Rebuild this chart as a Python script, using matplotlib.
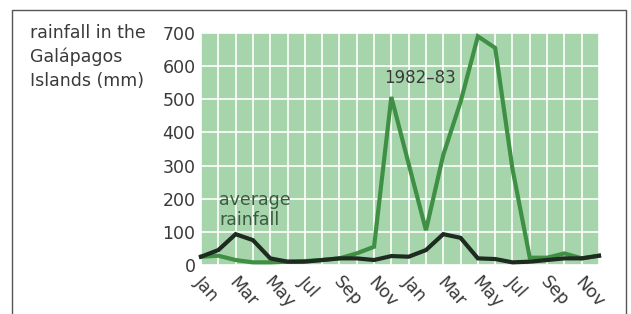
import matplotlib
matplotlib.use("Agg")
import matplotlib.pyplot as plt
import matplotlib.patches as patches
import matplotlib.transforms as mtransforms

# monthly rainfall, Jan 1982 .. Dec 1983 (mm)
months = ["Jan", "Feb", "Mar", "Apr", "May", "Jun",
          "Jul", "Aug", "Sep", "Oct", "Nov", "Dec"] * 2
rain_1982_83 = [25, 28, 15, 8, 8, 10, 12, 15, 20, 35, 55, 507,
                305, 105, 332, 492, 690, 655, 290, 22, 22, 35, 20, 28]
rain_average = [25, 45, 93, 75, 20, 10, 10, 15, 20, 20, 15, 27,
                25, 45, 93, 82, 20, 18, 8, 10, 15, 20, 20, 28]
y_ticks = [0, 100, 200, 300, 400, 500, 600, 700]

plt.rcParams['font.family'] = ['DejaVu Sans']
text_col = '#3a3a3a'

fig = plt.figure(figsize=(6.31, 3.14), dpi=100)
ax = fig.add_axes([201 / 631, 1 - 265 / 314, 398 / 631, 232 / 314])

x = list(range(len(months)))
ax.plot(x, rain_1982_83, color='#3f8f45', lw=3.0, solid_joinstyle='miter',
        clip_on=False, zorder=3)
ax.plot(x, rain_average, color='#1e2b20', lw=3.0, solid_joinstyle='miter',
        clip_on=False, zorder=4)

ax.set_facecolor('#a6d5ab')
ax.set_xlim(0, len(months) - 1)
ax.set_ylim(0, 700)
for s in ax.spines.values():
    s.set_visible(False)

ax.set_xticks(x[::2])
ax.set_xticklabels(months[::2], rotation=-48, ha='left', va='top',
                   fontsize=12.5, color=text_col)
ax.set_xticks(x, minor=True)
ax.set_yticks(y_ticks)
ax.set_yticklabels([str(v) for v in y_ticks], fontsize=12.5, color=text_col)
ax.tick_params(axis='both', which='both', length=0)
ax.tick_params(axis='y', pad=4)
ax.tick_params(axis='x', pad=6)
shift = mtransforms.ScaledTranslation(-10 / 100, 0, fig.dpi_scale_trans)
for lab in ax.get_xticklabels():
    lab.set_transform(lab.get_transform() + shift)

ax.grid(True, which='both', axis='x', color='white', lw=1.4, alpha=0.85)
ax.grid(True, which='major', axis='y', color='white', lw=1.4, alpha=0.85)
ax.set_axisbelow(True)

ax.text(1.05, 166, "average\nrainfall", fontsize=12.5,
        color='#3c5a40', ha='left', va='center', linespacing=1.2)
ax.text(10.6, 565, "1982\u201383", fontsize=12, color=text_col,
        ha='left', va='center')

fig.text(30 / 631, 1 - 24 / 314, "rainfall in the\nGalápagos\nIslands (mm)",
         fontsize=12.5, color=text_col, ha='left', va='top', linespacing=1.4)

frame = patches.Rectangle((12 / 631, -0.05), 614 / 631, 1.05 - 10 / 314,
                          transform=fig.transFigure, fill=False,
                          edgecolor='#555555', lw=1.0)
fig.patches.append(frame)

fig.savefig("out.png", dpi=100)
